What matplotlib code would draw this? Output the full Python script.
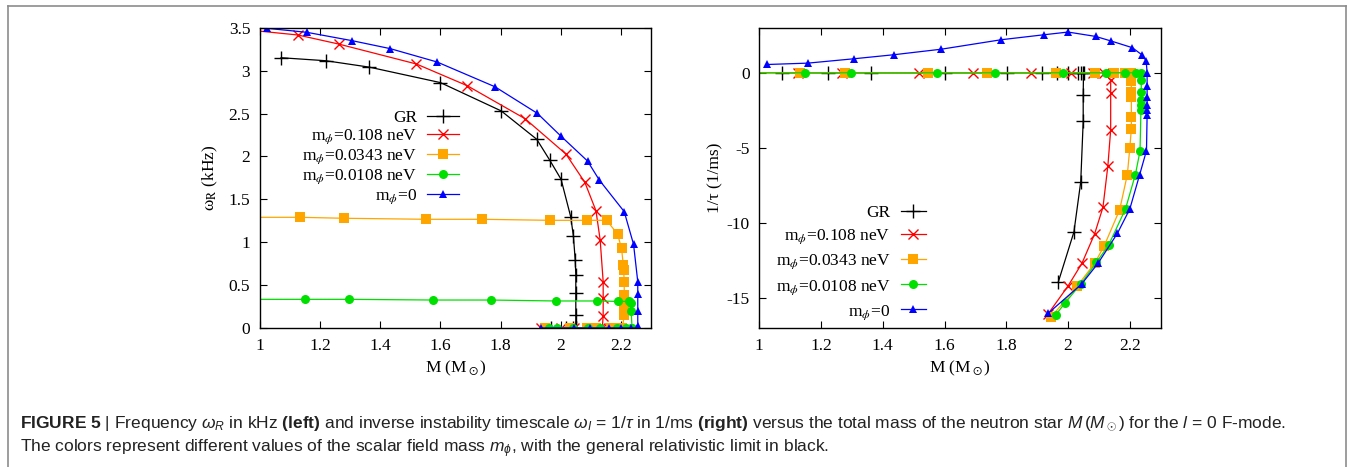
import matplotlib
matplotlib.use("Agg")
import matplotlib.pyplot as plt
from matplotlib.ticker import FuncFormatter
from matplotlib.lines import Line2D

plt.rcParams['font.family'] = ['Liberation Serif', 'DejaVu Serif']
plt.rcParams['mathtext.fontset'] = 'stix'
plt.rcParams['axes.unicode_minus'] = False

# ---------------- data: left panel (M, omega_R in kHz) ----------------
M_gr_L = [1.07, 1.219, 1.364, 1.60, 1.802, 1.92, 1.963, 2.001, 2.033, 2.042, 2.048, 2.05, 2.05, 2.05,
          2.05, 2.049, 2.041, 2.019, 1.968]
w_gr_L = [3.15, 3.115, 3.04, 2.86, 2.53, 2.20, 1.958, 1.733, 1.297, 1.072, 0.793, 0.618, 0.404, 0.15,
          0.0, 0.0, 0.0, 0.0, 0.0]

M_r_L = [0.97, 1.126, 1.261, 1.52, 1.689, 1.881, 2.017, 2.08, 2.117, 2.131, 2.141, 2.141, 2.141,
         2.138, 2.129, 2.113, 2.086, 2.045, 2.0, 1.935]
w_r_L = [3.47, 3.415, 3.31, 3.077, 2.824, 2.44, 2.028, 1.698, 1.367, 1.026, 0.54, 0.353, 0.143,
         0.0, 0.0, 0.0, 0.0, 0.0, 0.0, 0.0]

M_o_L = [0.97, 1.133, 1.278, 1.552, 1.739, 1.964, 2.087, 2.153, 2.189, 2.202, 2.208, 2.209, 2.211, 2.211,
         2.211, 2.211, 2.205, 2.2, 2.192, 2.167, 2.117, 2.086, 2.03, 1.946]
w_o_L = [1.29, 1.29, 1.279, 1.267, 1.267, 1.255, 1.255, 1.255, 1.092, 0.929, 0.734, 0.68, 0.532, 0.385,
         0.268, 0.152, 0.0, 0.0, 0.0, 0.0, 0.0, 0.0, 0.0, 0.0]

M_g_L = [0.97, 1.148, 1.297, 1.576, 1.768, 1.983, 2.122, 2.189, 2.226, 2.232, 2.234,
         2.237, 2.233, 2.218, 2.186, 2.132, 2.092, 2.041, 1.989, 1.96]
w_g_L = [0.334, 0.334, 0.334, 0.326, 0.326, 0.315, 0.315, 0.31, 0.31, 0.29, 0.2,
         0.0, 0.0, 0.0, 0.0, 0.0, 0.0, 0.0, 0.0, 0.0]

M_b_L = [1.023, 1.156, 1.306, 1.433, 1.589, 1.781, 1.922, 2.0, 2.089, 2.128, 2.211, 2.242, 2.256, 2.256,
         2.256, 2.256, 2.254, 2.232, 2.2, 2.16, 2.097, 2.044, 1.935]
w_b_L = [3.493, 3.446, 3.349, 3.256, 3.10, 2.812, 2.502, 2.238, 1.946, 1.725, 1.356, 0.975, 0.54, 0.396,
         0.202, 0.02, 0.0, 0.0, 0.0, 0.0, 0.0, 0.0, 0.0]

# ---------------- data: right panel (M, 1/tau in 1/ms) ----------------
M_gr_R = [1.072, 1.221, 1.362, 1.60, 1.803, 1.916, 1.963, 2.001, 2.033, 2.042, 2.048, 2.05,
          2.049, 2.049, 2.041, 2.019, 1.968]
t_gr_R = [0.0, 0.0, 0.0, 0.0, 0.0, 0.0, 0.0, 0.0, 0.0, 0.0, 0.0, 0.0,
          -1.45, -3.23, -7.27, -10.6, -13.96]

M_r_R = [0.97, 1.126, 1.269, 1.518, 1.693, 1.881, 2.011, 2.08, 2.117, 2.138, 2.138, 2.138, 2.129,
         2.113, 2.086, 2.045, 2.0, 1.935]
t_r_R = [0.0, 0.0, 0.0, 0.0, 0.0, 0.0, 0.0, 0.0, 0.0, -0.51, -1.36, -3.8, -6.18,
         -8.96, -10.73, -12.69, -14.2, -16.07]

M_o_R = [0.97, 1.132, 1.277, 1.547, 1.738, 1.962, 2.086, 2.149, 2.185, 2.203, 2.205, 2.205, 2.205,
         2.205, 2.205, 2.2, 2.192, 2.167, 2.117, 2.086, 2.03, 1.946]
t_o_R = [0.0, 0.0, 0.0, 0.0, 0.0, 0.0, 0.0, 0.0, 0.0, 0.0, -0.58, -1.29, -1.62,
         -2.96, -3.73, -5.0, -6.78, -9.13, -11.53, -12.69, -14.2, -16.25]

M_g_R = [0.97, 1.147, 1.296, 1.574, 1.763, 1.984, 2.124, 2.183, 2.221, 2.235, 2.237, 2.237, 2.237,
         2.237, 2.236, 2.233, 2.218, 2.186, 2.132, 2.092, 2.041, 1.989, 1.96]
t_g_R = [0.0, 0.0, 0.0, 0.0, 0.0, 0.0, 0.0, 0.0, 0.0, 0.0, -0.51, -1.29, -1.80,
         -2.18, -2.51, -5.22, -6.78, -9.07, -11.45, -12.63, -14.07, -15.36, -16.13]

M_b_R = [1.026, 1.157, 1.306, 1.436, 1.59, 1.784, 1.922, 2.0, 2.089, 2.14, 2.208, 2.24, 2.253, 2.256,
         2.256, 2.256, 2.256, 2.256, 2.256, 2.254, 2.232, 2.2, 2.16, 2.097, 2.044, 1.935]
t_b_R = [0.55, 0.64, 0.93, 1.2, 1.57, 2.2, 2.53, 2.71, 2.42, 2.11, 1.67, 1.18, 0.78, 0.0,
         -0.85, -1.62, -2.18, -2.51, -2.8, -5.18, -6.78, -9.07, -10.69, -12.69, -14.07, -16.03]

labels = ['GR', r'm$_\phi$=0.108 neV', r'm$_\phi$=0.0343 neV', r'm$_\phi$=0.0108 neV', r'm$_\phi$=0']
x_ticks = [1, 1.2, 1.4, 1.6, 1.8, 2, 2.2]
yL_ticks = [0, 0.5, 1, 1.5, 2, 2.5, 3, 3.5]
yR_ticks = [-15, -10, -5, 0]

styles = [
    dict(color='black', marker='+', ms=10, mew=1.0),
    dict(color='#ff0000', marker='x', ms=7.5, mew=1.0),
    dict(color='#ffa500', marker='s', ms=6.5, mew=0),
    dict(color='#00e000', marker='o', ms=6.5, mew=0),
    dict(color='#0000ff', marker='^', ms=6, mew=0),
]

fig = plt.figure(figsize=(13.54, 4.67), dpi=100)
W, H = 1354.0, 467.0
axL = fig.add_axes([260 / W, 1 - 328 / H, 391 / W, 300.3 / H])
axR = fig.add_axes([759.3 / W, 1 - 328 / H, 401.4 / W, 300.3 / H])

left_data = [(M_gr_L, w_gr_L), (M_r_L, w_r_L), (M_o_L, w_o_L), (M_g_L, w_g_L), (M_b_L, w_b_L)]
right_data = [(M_gr_R, t_gr_R), (M_r_R, t_r_R), (M_o_R, t_o_R), (M_g_R, t_g_R), (M_b_R, t_b_R)]

for (m, w), st, lab in zip(left_data, styles, labels):
    axL.plot(m, w, lw=0.9, label=lab, **st)
for (m, t), st, lab in zip(right_data, styles, labels):
    axR.plot(m, t, lw=0.9, label=lab, **st)

fmt = FuncFormatter(lambda v, p: '%g' % v)
for ax in (axL, axR):
    ax.set_xlim(1, 2.3)
    ax.set_xticks(x_ticks)
    ax.xaxis.set_major_formatter(fmt)
    ax.yaxis.set_major_formatter(fmt)
    ax.tick_params(direction='in', length=5, width=0.8, top=True, right=True, labelsize=12.5, pad=7)
    for s in ax.spines.values():
        s.set_linewidth(1.0)
    ax.set_xlabel(r'M (M$_\odot$)', fontsize=12.5, labelpad=4)

axL.set_ylim(0, 3.5)
axL.set_yticks(yL_ticks)
axL.set_ylabel(r'ω$_\mathrm{R}$ (kHz)', fontsize=12.5, labelpad=6)
axR.set_ylim(-17, 3)
axR.set_yticks(yR_ticks)
axR.set_ylabel('1/τ (1/ms)', fontsize=12.5, labelpad=2)

legL = axL.legend(loc='upper right', bbox_to_anchor=(0.51, 0.725), frameon=False, markerfirst=False,
                  fontsize=12.5, handlelength=1.84, handletextpad=0.6, labelspacing=0.08,
                  borderpad=0, borderaxespad=0)
legR = axR.legend(loc='upper right', bbox_to_anchor=(0.415, 0.41), frameon=False, markerfirst=False,
                  fontsize=12.5, handlelength=1.44, handletextpad=0.6, labelspacing=0.38,
                  borderpad=0, borderaxespad=0)

# outer frame
frame_c = '#8c8c8c'
fig.add_artist(Line2D([8 / W, 1346 / W], [1 - 6 / H, 1 - 6 / H], color=frame_c, lw=1.2))
fig.add_artist(Line2D([8 / W, 8 / W], [0, 1 - 6 / H], color=frame_c, lw=1.2))
fig.add_artist(Line2D([1346 / W, 1346 / W], [0, 1 - 6 / H], color=frame_c, lw=1.2))

plt.rcParams['mathtext.rm'] = 'Liberation Sans'
plt.rcParams['mathtext.it'] = 'Liberation Sans:italic'
plt.rcParams['mathtext.bf'] = 'Liberation Sans:bold'
cap1 = (r'$\mathbf{FIGURE\ 5}$ | Frequency $\omega_R$ in kHz $\mathbf{(left)}$ and inverse instability '
        r'timescale $\omega_I$ = 1/$\tau$ in 1/ms $\mathbf{(right)}$ versus the total mass of the neutron '
        r'star $M\,(M_\odot)$ for the $l$ = 0 F-mode.')
cap2 = (r'The colors represent different values of the scalar field mass $m_\phi$, with the general '
        r'relativistic limit in black.')
fig.text(20 / W, 1 - 424 / H, cap1, family='Liberation Sans', fontsize=12.52, va='center', ha='left',
         color='#222222', math_fontfamily='custom')
fig.text(20 / W, 1 - 449 / H, cap2, family='Liberation Sans', fontsize=12.52, va='center', ha='left',
         color='#222222', math_fontfamily='custom')

fig.savefig('out.png', dpi=100)
